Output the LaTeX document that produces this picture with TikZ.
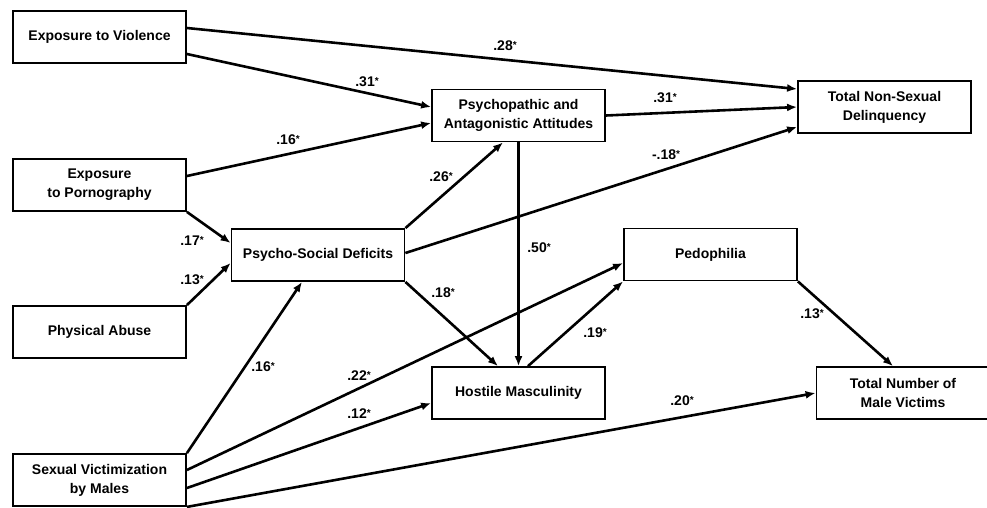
\documentclass[tikz,border=0pt]{standalone}
\usepackage{fontspec}
\setmainfont{Liberation Sans}
\usetikzlibrary{arrows.meta}
\newcommand{\sig}{\raisebox{2.5pt}{\fontsize{10}{10}\selectfont*}}
\begin{document}
\begin{tikzpicture}[x=1pt,y=-1pt,
  box/.style={draw, line width=1.8pt, minimum width=173pt, minimum height=52pt, inner sep=0pt, align=center, font=\fontsize{14}{19}\selectfont\bfseries},
  eff/.style={line width=2.6pt, -{Latex[length=10pt,width=8pt]}},
  coef/.style={inner sep=0pt, font=\fontsize{14}{16}\selectfont\bfseries}]

  \useasboundingbox (0,0) rectangle (987,507);

	%draw variables
    \foreach \x/\y/\name/\txt in {99.5/37/EV/{Exposure to Violence}, 99.5/185/EP/{Exposure\\to Pornography}, 99.5/332/PA/{Physical Abuse}, 99.5/480/SVM/{Sexual Victimization\\by Males}, 318/255/PSD/{Psycho-Social Deficits}, 518.5/115.5/PAA/{Psychopathic and\\Antagonistic Attitudes}, 518.5/393/HM/{Hostile Masculinity}, 710.5/254.5/PED/{Pedophilia}, 884.5/107/TND/{Total Non-Sexual\\Delinquency}, 903/393/TNMV/{Total Number of\\Male Victims}}{
           \node[box] (\name) at (\x,\y) {\txt};
    }

	%paths
 \draw[eff] ([yshift=9pt]EV.east) -- ([yshift=18pt]TND.west);
 \draw[eff] ([yshift=-17pt]EV.east) -- ([yshift=8.5pt]PAA.west);
 \draw[eff] ([yshift=9pt]EP.east) -- ([yshift=-7.5pt]PAA.west);
 \draw[eff] (EP.south east) -- ([yshift=12pt]PSD.west);
 \draw[eff] (PA.north east) -- ([yshift=-8pt]PSD.west);
 \draw[eff] (SVM.north east) -- ([xshift=-16pt]PSD.south);
 \draw[eff] ([yshift=10pt]SVM.east) -- ([yshift=-8.5pt]PED.west);
 \draw[eff] ([yshift=-8pt]SVM.east) -- ([yshift=-10pt]HM.west);
 \draw[eff] (SVM.south east) -- (TNMV.west);
 \draw[eff] (PSD.north east) -- ([xshift=-15.5pt]PAA.south);
 \draw[eff] ([yshift=2pt]PSD.east) -- ([yshift=-20pt]TND.west);
 \draw[eff] (PAA.east) -- (TND.west);
 \draw[eff] (PAA.south) -- (HM.north);
 \draw[eff] (PSD.south east) -- ([xshift=-20.5pt]HM.north);
 \draw[eff] ([xshift=9.5pt]HM.north) -- (PED.south west);
 \draw[eff] (PED.south east) -- ([xshift=-10pt]TNMV.north);

	%coefficients
    \foreach \x/\y/\num/\name in {505/46/.28\sig/c1, 367/82/.31\sig/c2, 288/140/.16\sig/c3, 192/241/.17\sig/c4, 192/280/.13\sig/c5, 263/367/.16\sig/c6, 359/376/.22\sig/c7, 359/414/.12\sig/c8, 682/401/.20\sig/c9, 441/177/.26\sig/c10, 666/155/-.18\sig/c11, 665/98/.31\sig/c12, 539/248/.50\sig/c13, 443/293/.18\sig/c14, 595/333/.19\sig/c15, 812/314/.13\sig/c16}{
         \node[coef] (\name) at (\x,\y) {\num};
    }

\end{tikzpicture}
\end{document}
